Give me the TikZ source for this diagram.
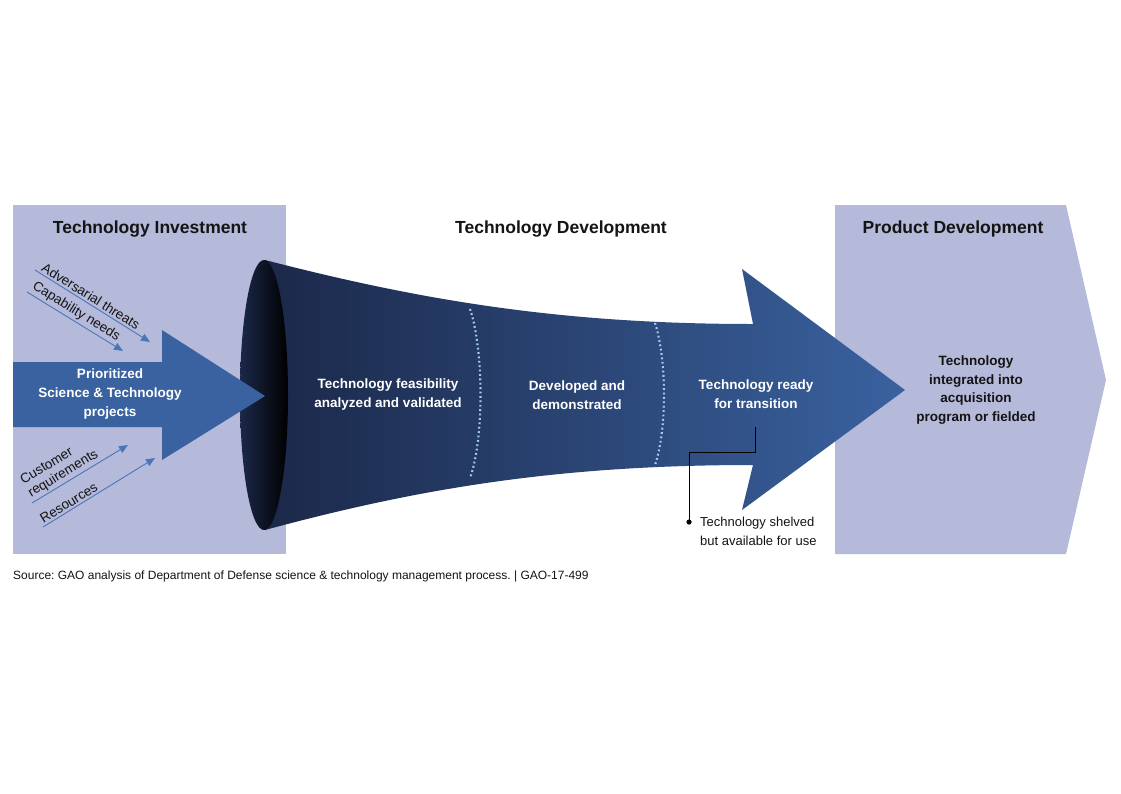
\documentclass[tikz,border=0pt]{standalone}
\usepackage{fontspec}
\setmainfont{Liberation Sans}
\usetikzlibrary{arrows.meta}
\definecolor{panel}{HTML}{B5B9DA}
\definecolor{arrowblue}{HTML}{3A62A0}
\definecolor{funnelL}{HTML}{1B2849}
\definecolor{funnelR}{HTML}{3A62A0}
\definecolor{lineblue}{HTML}{4A76B8}
\definecolor{dotblue}{HTML}{A4CBF4}
\definecolor{inktext}{HTML}{141414}
\tikzset{
  heading/.style={font=\fontsize{17.5}{21}\selectfont\bfseries, text=inktext, inner sep=0pt},
  inlabel/.style={font=\fontsize{13.5}{19}\selectfont\bfseries, text=white, align=center, inner sep=0pt},
  darklabel/.style={font=\fontsize{13.5}{18.5}\selectfont\bfseries, text=inktext, align=center, inner sep=0pt},
  sidelabel/.style={font=\fontsize{13.5}{15}\selectfont, text=inktext, align=left, inner sep=2pt, sloped},
  inarrow/.style={draw=lineblue, line width=0.9pt, -{Triangle[length=9pt,width=7.5pt]}},
  notelabel/.style={font=\fontsize{13}{19}\selectfont, text=inktext, align=left, inner sep=0pt},
  stageline/.style={draw=dotblue, line width=2.1pt, dash pattern=on 1.8pt off 2.6pt},
  callout/.style={draw=black, line width=1pt}
}
\begin{document}
\frenchspacing
\begin{tikzpicture}[x=1pt,y=-1pt]
\useasboundingbox[fill=white] (0,0) rectangle (1121,793);
% panels
\fill[panel] (13,205) rectangle (286,554);
\fill[panel] (835,205) -- (1066,205) -- (1106,380) -- (1066,554) -- (835,554) -- cycle;
% funnel + arrow body
\shade[left color=funnelL, right color=funnelR]
  (265,260) .. controls (420,300) and (560,324) .. (753,324)
  -- (742,269) -- (905,390) -- (742,510) -- (753,465)
  .. controls (560,465) and (420,488) .. (265,530) -- cycle;
% funnel mouth
\shade[left color=funnelL, right color=black] (264,395) ellipse [x radius=24, y radius=135];
% left input arrow
\fill[arrowblue] (13,362) -- (162,362) -- (162,330) -- (265,396) -- (162,460) -- (162,427) -- (13,427) -- cycle;
% stage separators
\draw[stageline] (470,309) .. controls (484,350) and (484,440) .. (470,478);
\draw[stageline] (655,323) .. controls (667,360) and (667,430) .. (655,465);
% headings
\node[heading] (hInv) at (150,229) {Technology Investment};
\node[heading] (hDev) at (561,229) {Technology Development};
\node[heading] (hProd) at (953,229) {Product Development};
% texts
\node[inlabel] (proj) at (110,394) {Prioritized\\Science \& Technology\\projects};
\node[inlabel] (feas) at (388,395) {Technology feasibility\\analyzed and validated};
\node[inlabel] (demo) at (577,395) {Developed and\\demonstrated};
\node[inlabel] (ready) at (756,394) {Technology ready\\for transition};
\node[darklabel] (integ) at (976,390) {Technology\\integrated into\\acquisition\\program or fielded};
% input arrows
\coordinate (a1s) at (35,270);  \coordinate (a1e) at (150,342);
\coordinate (a2s) at (27,292);  \coordinate (a2e) at (123,351);
\coordinate (a3s) at (32,503);  \coordinate (a3e) at (128,445);
\coordinate (a4s) at (43,527);  \coordinate (a4e) at (155,458);
\draw[inarrow] (a1s) -- node[sidelabel, pos=0.02, anchor=south west] (l1) {Adversarial threats} (a1e);
\draw[inarrow] (a2s) -- node[sidelabel, pos=0.0, anchor=south west] (l2) {Capability needs} (a2e);
\draw[inarrow] (a3s) -- node[sidelabel, pos=0.0, anchor=south west] (l3) {Customer\\requirements} (a3e);
\draw[inarrow] (a4s) -- node[sidelabel, pos=0.0, anchor=south west] (l4) {Resources} (a4e);
% callout
\coordinate (cStart) at (755,427);
\coordinate (cDot) at (689,522);
\draw[callout] (cStart) -- ++(0,25) -| (cDot);
\fill (cDot) circle (2.6);
\node[notelabel, anchor=west] (shelf) at (700,531) {Technology shelved\\but available for use};
% source
\node[font=\fontsize{12}{14}\selectfont, text=inktext, anchor=west, inner sep=0pt] (src) at (13,576) {Source: GAO analysis of Department of Defense science \& technology management process. | GAO-17-499};
\end{tikzpicture}
\end{document}
